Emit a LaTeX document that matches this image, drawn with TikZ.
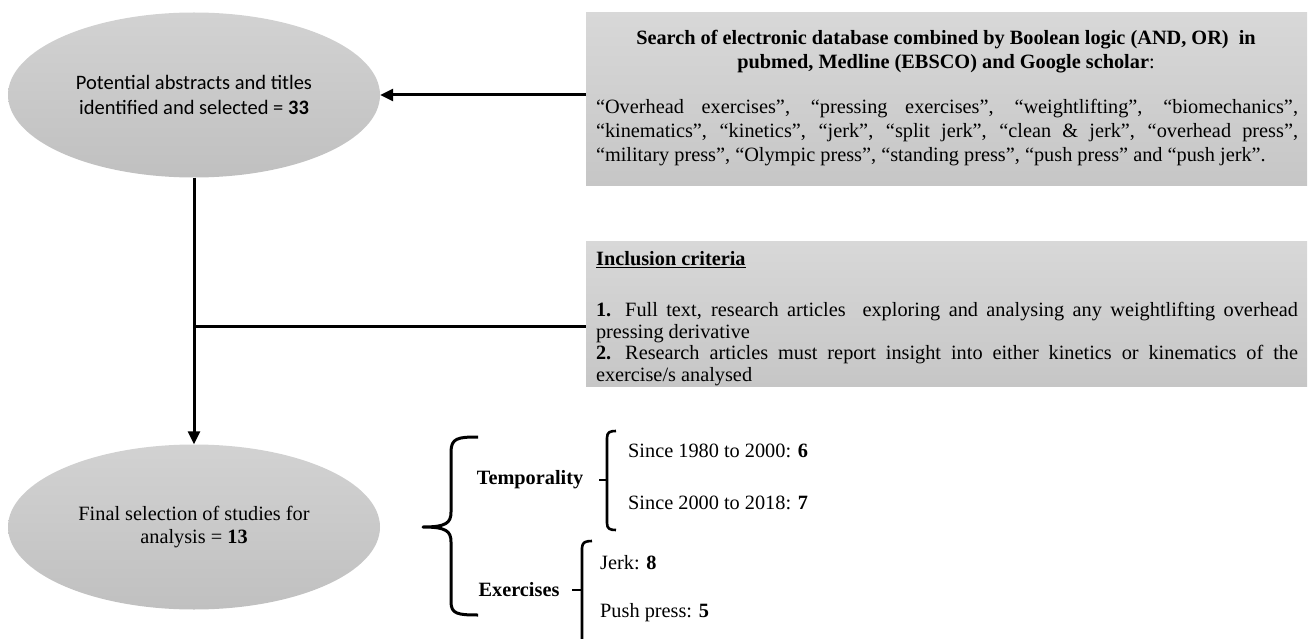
\documentclass[tikz,border=0pt]{standalone}
\usepackage{fontspec}
\setmainfont{Liberation Serif}
\newfontfamily\calib{Carlito}
\usetikzlibrary{shapes.geometric,arrows.meta}
\definecolor{elltop}{RGB}{210,210,210}
\definecolor{ellbot}{RGB}{192,192,192}
\definecolor{boxtop}{RGB}{216,216,216}
\definecolor{boxbot}{RGB}{198,198,198}
\hyphenpenalty=10000
\exhyphenpenalty=10000
\begin{document}
\begin{tikzpicture}[x=1pt,y=-1pt,
  every node/.style={inner sep=0pt,font=\fontsize{20.3}{24}\selectfont},
  ell/.style={ellipse,minimum width=372pt,minimum height=165pt,inner sep=0pt,
    top color=elltop,bottom color=ellbot,draw=none,align=center},
  panel/.style={rectangle,inner sep=0pt,anchor=north west,minimum width=721pt,
    top color=boxtop,bottom color=boxbot,draw=none},
  conn/.style={line width=3pt,black},
  arr/.style={conn,-{Triangle[length=13pt,width=12pt]}},
  bigbrace/.style={line width=3pt,line join=round},
  brk/.style={line width=2.6pt,line join=round},
  bold/.style={font=\fontsize{20.3}{24}\selectfont\bfseries}
]
\useasboundingbox (0,0) rectangle (1309,639);

% ellipses
\node[ell,font={\calib\fontsize{20.5}{24.5}\selectfont}] (ell1) at (194,95)
  {Potential abstracts and titles\\identified and selected = \textbf{33}};
\node[ell,font={\fontsize{20.3}{23}\selectfont}] (ell2) at (194,527)
  {Final selection of studies for\\analysis = \textbf{13}};

% search box
\node[panel,minimum height=173pt] (box1) at (586,12) {};
\node[bold,align=center] (title) at (946,52)
  {Search of electronic database combined by Boolean logic (AND, OR)\ \ in\\
   pubmed, Medline (EBSCO) and Google scholar\textmd{:}};
\node[text width=702pt,align=justify] (terms) at (947,133)
  {“Overhead exercises”, “pressing exercises”, “weightlifting”, “biomechanics”,\linebreak
   “kinematics”, “kinetics”, “jerk”, “split jerk”, “clean \& jerk”, “overhead press”,\linebreak
   “military press”, “Olympic press”, “standing press”, “push press” and “push jerk”.};

% inclusion box
\node[panel,minimum height=145pt] (box2) at (586,241) {};
\node[bold,anchor=west] (inc) at (596,260) {\underline{Inclusion criteria}};
\node[text width=702pt,align=justify,font={\fontsize{20.3}{21.5}\selectfont}] (crit) at (947,344)
  {\textbf{1.}\hspace{14pt}Full text, research articles\ \ exploring and analysing any weightlifting overhead\linebreak
   pressing derivative\\
   \textbf{2.}\hspace{14pt}Research articles must report insight into either kinetics or kinematics of the\linebreak
   exercise/s analysed};

% connectors
\coordinate (junc) at (194,326);
\draw[arr] (box1.west |- ell1.east) -- (ell1.east);
\draw[arr] (ell1.south) -- (ell2.north);
\draw[conn] (junc) -- (junc -| box2.west);

% classification
\node[bold] (temp) at (530,480) {Temporality};
\node[bold] (exer) at (519,590) {Exercises};
\node[anchor=west] (t1) at (628,451) {Since 1980 to 2000: \textbf{6}};
\node[anchor=west] (t2) at (628,503) {Since 2000 to 2018: \textbf{7}};
\node[anchor=west] (e1) at (600,563) {Jerk: \textbf{8}};
\node[anchor=west] (e2) at (600,613) {Push press: \textbf{5}};

% braces
\draw[bigbrace] (478,437) .. controls (458,437) and (451,438) .. (451,452) -- (451,512)
  .. controls (451,523) and (446,527) .. (423,527)
  .. controls (446,527) and (451,531) .. (451,542) -- (451,602)
  .. controls (451,614) and (458,615) .. (478,615);
\draw[brk] (616,431) .. controls (610,431) and (607,432) .. (607,438) -- (607,523)
  .. controls (607,529) and (610,530) .. (616,530);
\draw[brk] (599,480) -- (607,480);
\draw[brk] (592,541) .. controls (586,541) and (582,542) .. (582,548) -- (582,639);
\draw[brk] (572,590) -- (582,590);
\end{tikzpicture}
\end{document}
